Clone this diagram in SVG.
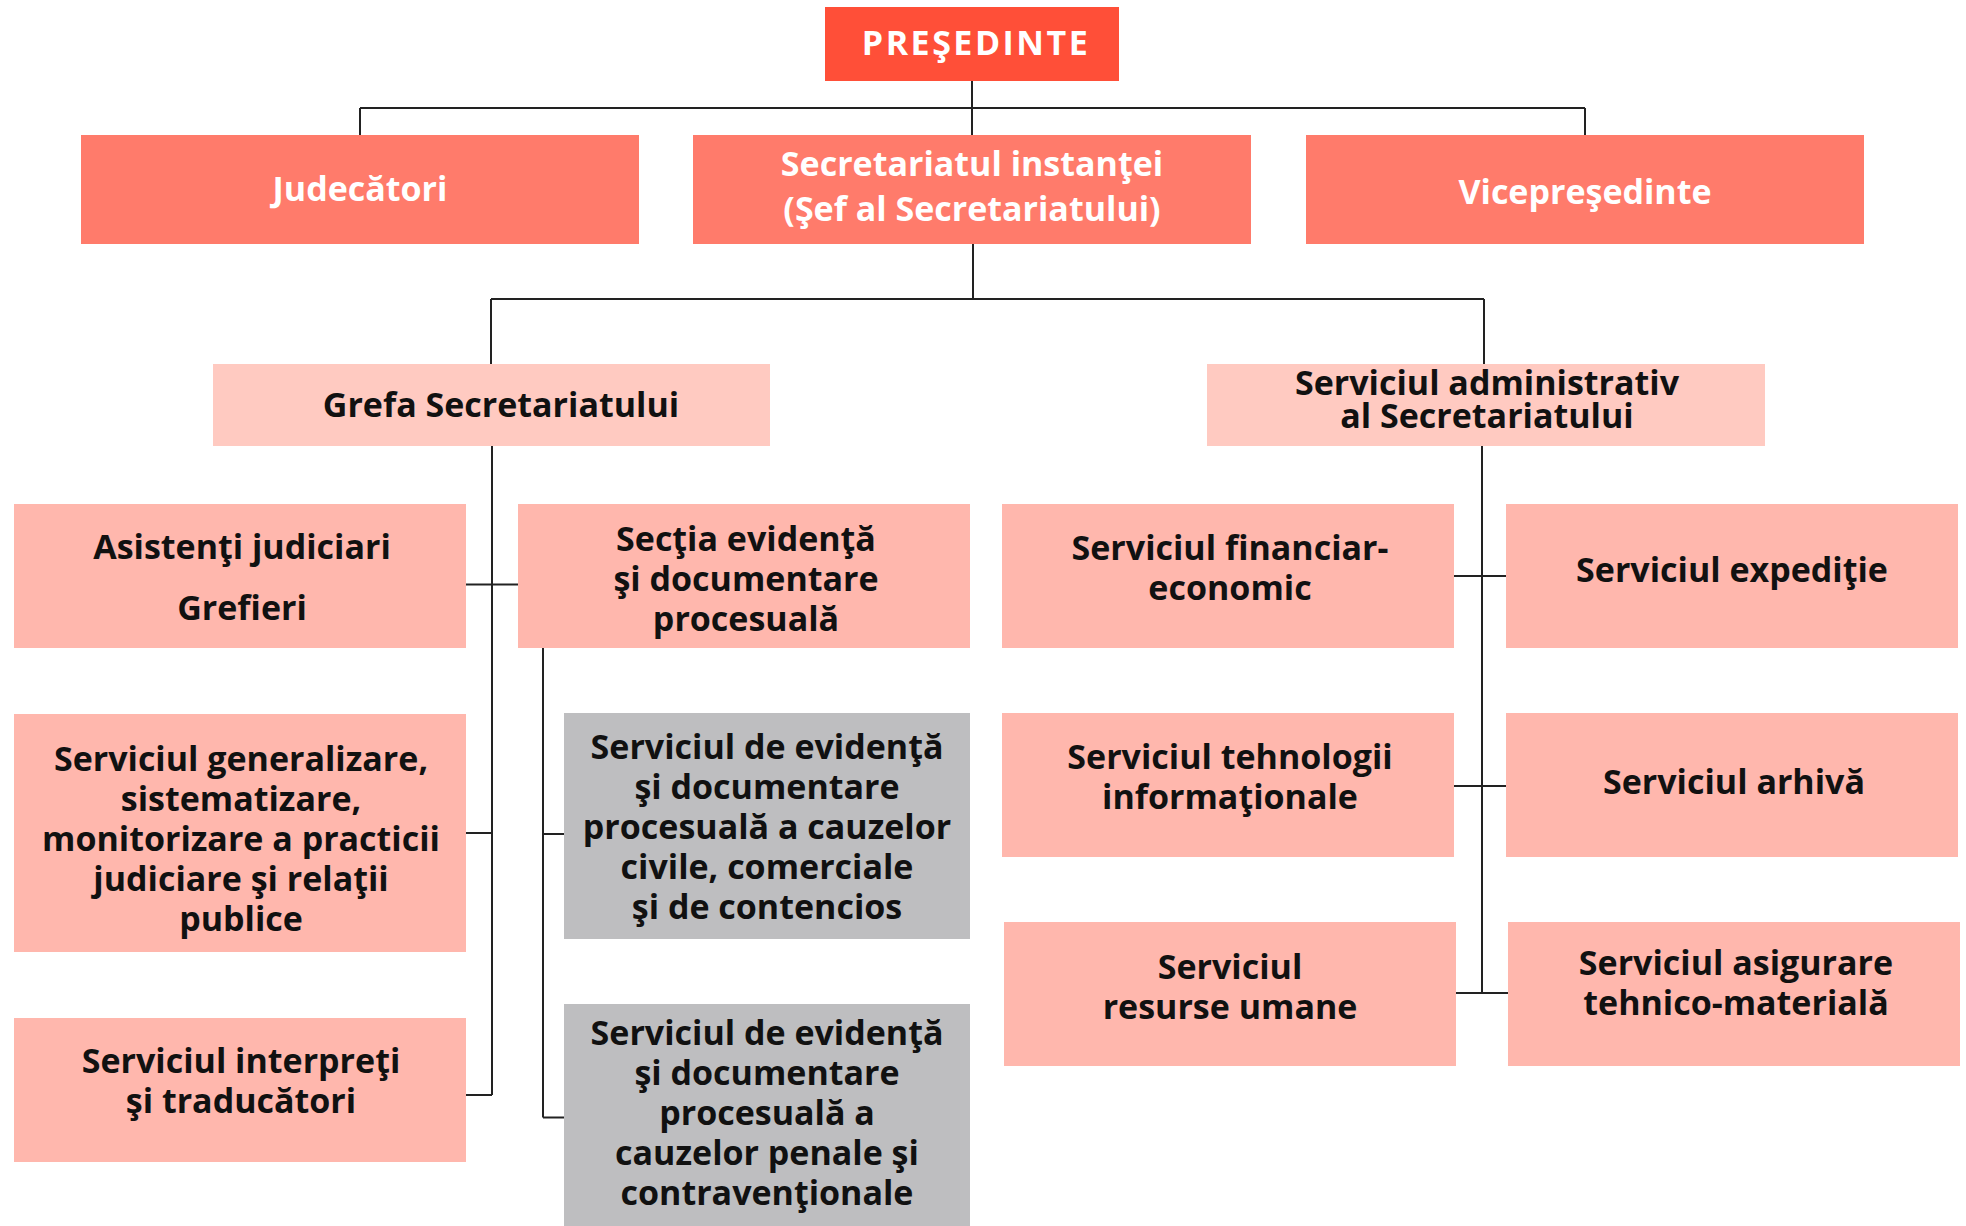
<svg xmlns="http://www.w3.org/2000/svg" width="1966" height="1226" viewBox="0 0 1966 1226">
<style>
.l{stroke:#222;stroke-width:2;fill:none}
.p0{fill:#FF4F38}
.p1{fill:#FF7B6B}
.p2{fill:#FFCAC1}
.p3{fill:#FFB7AD}
.g{fill:#BEBEC0}
text{font-family:"Open Sans",Lato,"Liberation Sans",sans-serif;font-weight:bold;text-anchor:middle;font-size:34px}
.w{fill:#fff}
.b{fill:#111}
</style>
<rect width="1966" height="1226" fill="#fff"/>
<g id="connectors">
<path class="l" d="M972 81V135M360 108H1585M360 108V135M1585 108V135"/>
<path class="l" d="M973 244V299M491 299H1484M491 299V364M1484 299V364"/>
<path class="l" d="M492 446V1095M466 584.5H518M466 833H492M466 1095H492"/>
<path class="l" d="M543 648V1117.5M543 834H564M543 1117.5H568"/>
<path class="l" d="M1482 446V993M1454 576H1507M1454 786H1506M1456 993H1508"/>
</g>
<g id="presedinte"><rect class="p0" x="825" y="7" width="294" height="74"/><text class="w" x="976" y="55" letter-spacing="2.5">PREŞEDINTE</text></g>
<g id="judecatori"><rect class="p1" x="81" y="135" width="558" height="109"/><text class="w" x="360" y="201">Judecători</text></g>
<g id="secretariatul"><rect class="p1" x="693" y="135" width="558" height="109"/><text class="w" x="972" y="176">Secretariatul instanţei</text><text class="w" x="972" y="221">(Şef al Secretariatului)</text></g>
<g id="vicepresedinte"><rect class="p1" x="1306" y="135" width="558" height="109"/><text class="w" x="1585" y="204">Vicepreşedinte</text></g>
<g id="grefa"><rect class="p2" x="213" y="364" width="557" height="82"/><text class="b" x="501" y="417">Grefa Secretariatului</text></g>
<g id="administrativ"><rect class="p2" x="1207" y="364" width="558" height="82"/><text class="b" x="1487" y="395">Serviciul administrativ</text><text class="b" x="1487" y="428">al Secretariatului</text></g>
<g id="asistenti"><rect class="p3" x="14" y="504" width="452" height="144"/><text class="b" x="242" y="559">Asistenţi judiciari</text><text class="b" x="242" y="620">Grefieri</text></g>
<g id="sectia"><rect class="p3" x="518" y="504" width="452" height="144"/><text class="b" x="746" y="551">Secţia evidenţă</text><text class="b" x="746" y="591">şi documentare</text><text class="b" x="746" y="631">procesuală</text></g>
<g id="generalizare"><rect class="p3" x="14" y="714" width="452" height="238"/><text class="b" x="241" y="771">Serviciul generalizare,</text><text class="b" x="241" y="811">sistematizare,</text><text class="b" x="241" y="851">monitorizare a practicii</text><text class="b" x="241" y="891">judiciare şi relaţii</text><text class="b" x="241" y="931">publice</text></g>
<g id="interpreti"><rect class="p3" x="14" y="1018" width="452" height="144"/><text class="b" x="241" y="1073">Serviciul interpreţi</text><text class="b" x="241" y="1113">şi traducători</text></g>
<g id="civile"><rect class="g" x="564" y="713" width="406" height="226"/><text class="b" x="767" y="759">Serviciul de evidenţă</text><text class="b" x="767" y="799">şi documentare</text><text class="b" x="767" y="839">procesuală a cauzelor</text><text class="b" x="767" y="879">civile, comerciale</text><text class="b" x="767" y="919">şi de contencios</text></g>
<g id="penale"><rect class="g" x="564" y="1004" width="406" height="222"/><text class="b" x="767" y="1045">Serviciul de evidenţă</text><text class="b" x="767" y="1085">şi documentare</text><text class="b" x="767" y="1125">procesuală a</text><text class="b" x="767" y="1165">cauzelor penale şi</text><text class="b" x="767" y="1205">contravenţionale</text></g>
<g id="financiar"><rect class="p3" x="1002" y="504" width="452" height="144"/><text class="b" x="1230" y="560">Serviciul financiar-</text><text class="b" x="1230" y="600">economic</text></g>
<g id="expeditie"><rect class="p3" x="1506" y="504" width="452" height="144"/><text class="b" x="1732" y="582">Serviciul expediţie</text></g>
<g id="tehnologii"><rect class="p3" x="1002" y="713" width="452" height="144"/><text class="b" x="1230" y="769">Serviciul tehnologii</text><text class="b" x="1230" y="809">informaţionale</text></g>
<g id="arhiva"><rect class="p3" x="1506" y="713" width="452" height="144"/><text class="b" x="1734" y="794">Serviciul arhivă</text></g>
<g id="resurse"><rect class="p3" x="1004" y="922" width="452" height="144"/><text class="b" x="1230" y="979">Serviciul</text><text class="b" x="1230" y="1019">resurse umane</text></g>
<g id="asigurare"><rect class="p3" x="1508" y="922" width="452" height="144"/><text class="b" x="1736" y="975">Serviciul asigurare</text><text class="b" x="1736" y="1015">tehnico-materială</text></g>
</svg>
